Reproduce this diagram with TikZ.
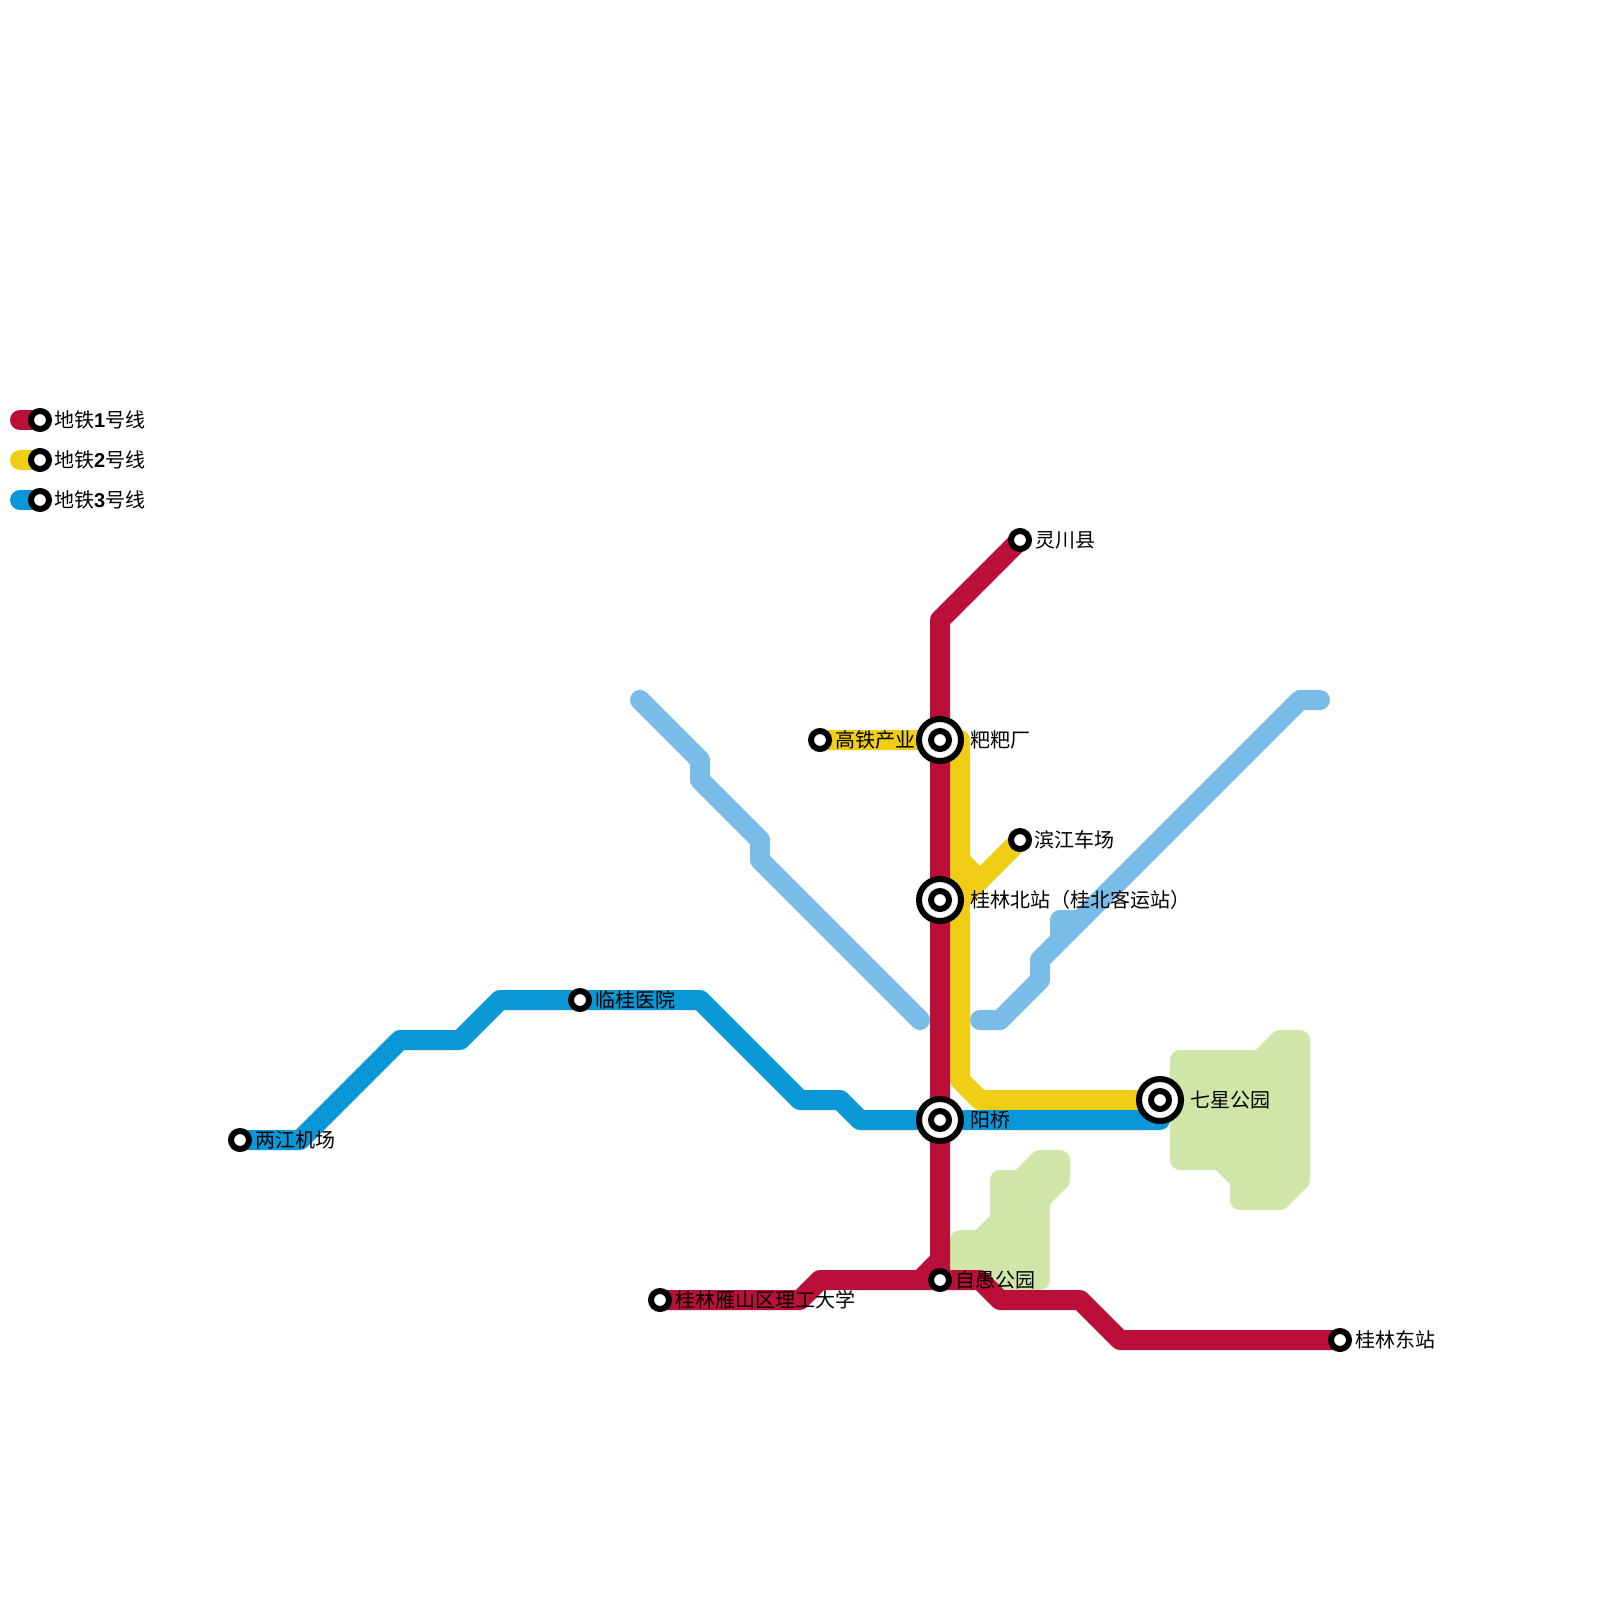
\documentclass[tikz,border=0pt]{standalone}
\usepackage{fontspec}
\setmainfont{Noto Sans CJK SC}
\newfontfamily\digitfont{Liberation Sans}[BoldFont={Liberation Sans Bold}]
\usepackage{xcolor}
\definecolor{lineone}{HTML}{BA0F38}
\definecolor{linetwo}{HTML}{F0CE15}
\definecolor{linethree}{HTML}{0A97D8}
\definecolor{river}{HTML}{7ABCE8}
\definecolor{park}{HTML}{D0E5A8}
\usetikzlibrary{positioning, backgrounds}

\begin{document}
\begin{tikzpicture}[
  x=1pt, y=-1pt,
  metro/.style={line width=20pt, line join=round, line cap=round},
  greenery/.style={draw=park, fill=park, line width=20pt, line join=round},
  stn/.style={circle, draw=black, fill=white, line width=6pt, minimum size=18pt, inner sep=0pt},
  xfer/.style={circle, draw=black, fill=white, line width=6pt, minimum size=42pt, inner sep=0pt},
  lbl/.style={inner sep=0pt, outer sep=0pt, anchor=west, text=black, font=\fontsize{20}{24}\selectfont},
]
\useasboundingbox (0,0) rectangle (1600,1600);

% interchanges
\node[xfer] (baba)   at (940,740)  {};
\node[xfer] (beizhan) at (940,900) {};
\node[xfer] (yangqiao) at (940,1120) {};
\node[xfer] (qixing) at (1160,1100) {};
\node[stn] (babac)   at (baba) {};
\node[stn] (beizhanc) at (beizhan) {};
\node[stn] (yangqiaoc) at (yangqiao) {};
\node[stn] (qixingc) at (qixing) {};

% stations
\node[stn] (lingchuan) at (1020,540)  {};
\node[stn] (binjiang)  at (1020,840)  {};
\node[stn] (gaotie)    at (820,740)   {};
\node[stn] (ziyu)      at (940,1280)  {};
\node[stn] (yanshan)   at (660,1300)  {};
\node[stn] (dongzhan)  at (1340,1340) {};
\node[stn] (liangjiang) at (240,1140) {};
\node[stn] (lingui)    at (580,1000)  {};

% legend
\node[stn] (keyone)   at (40,420) {};
\node[stn] (keytwo)   at (40,460) {};
\node[stn] (keythree) at (40,500) {};
\coordinate (startone)   at (20,420);
\coordinate (starttwo)   at (20,460);
\coordinate (startthree) at (20,500);

\coordinate (riverw) at (640,700);
\coordinate (rivere) at (920,1020);
\coordinate (rivern) at (1320,700);
\coordinate (rivers) at (980,1020);

\begin{scope}[on background layer]
  % parks
  \draw[greenery] (1180,1060) -- (1260,1060) -- (1280,1040) -- (1300,1040) -- (1300,1180)
    -- (1280,1200) -- (1240,1200) -- (1240,1180) -- (1220,1160) -- (1180,1160) -- cycle;
  \draw[greenery] (960,1240) -- (980,1240) -- (1000,1220) -- (1000,1180) -- (1020,1180)
    -- (1040,1160) -- (1060,1160) -- (1060,1180) -- (1040,1200) -- (1040,1280) -- (960,1280) -- cycle;
  % river
  \draw[metro, river] (riverw) -- (700,760) -- (700,780) -- (760,840) -- (760,860) -- (rivere);
  \draw[metro, river] (rivers) -- (1000,1020) -- (1040,980) -- (1040,960) -- (1300,700) -- (rivern);
  \draw[metro, river] (1060,940) -- (1060,920) -- (1080,920);
  % line 2
  \draw[metro, linetwo] (gaotie.center) -- (960,740) -- (960,1080) -- (980,1100) -- (qixing.center);
  \draw[metro, linetwo] (binjiang.center) -- (980,880) -- (960,900);
  \draw[metro, linetwo] (960,860) -- (980,880);
  % line 3
  \draw[metro, linethree] (liangjiang.center) -- (300,1140) -- (400,1040) -- (460,1040) -- (500,1000)
    -- (lingui.center) -- (700,1000) -- (800,1100) -- (840,1100) -- (860,1120) -- (yangqiao.center) -- (1160,1120);
  % line 1
  \draw[metro, lineone] (lingchuan.center) -- (940,620) -- (baba.center) -- (beizhan.center)
    -- (yangqiao.center) -- (ziyu.center);
  \draw[metro, lineone] (yanshan.center) -- (800,1300) -- (820,1280) -- (ziyu.center)
    -- (980,1280) -- (1000,1300) -- (1080,1300) -- (1120,1340) -- (dongzhan.center);
  \draw[metro, lineone] (920,1280) -- (940,1260);
  % legend bars
  \draw[metro, lineone] (startone) -- (keyone.center);
  \draw[metro, linetwo] (starttwo) -- (keytwo.center);
  \draw[metro, linethree] (startthree) -- (keythree.center);
\end{scope}

% labels
\node[lbl] (tbaba) at (970,740) {粑粑厂};
\node[lbl] (tbeizhan) at (970,900) {桂林北站（桂北客运站）};
\node[lbl] (tyangqiao) at (970,1120) {阳桥};
\node[lbl] (tqixing) at (1190,1100) {七星公园};
\node[lbl] (tlingchuan) at (1035,540) {灵川县};
\node[lbl] (tbinjiang) at (1034,840) {滨江车场};
\node[lbl] (tgaotie) at (835,740) {高铁产业};
\node[lbl] (tziyu) at (955,1280) {自愚公园};
\node[lbl] (tyanshan) at (675,1300) {桂林雁山区理工大学};
\node[lbl] (tdongzhan) at (1355,1340) {桂林东站};
\node[lbl] (tliangjiang) at (255,1140) {两江机场};
\node[lbl] (tlingui) at (595,1000) {临桂医院};
\node[lbl] (tkeyone) at (54,420) {地铁{\digitfont\bfseries 1}号线};
\node[lbl] (tkeytwo) at (54,460) {地铁{\digitfont\bfseries 2}号线};
\node[lbl] (tkeythree) at (54,500) {地铁{\digitfont\bfseries 3}号线};

\end{tikzpicture}
\end{document}
